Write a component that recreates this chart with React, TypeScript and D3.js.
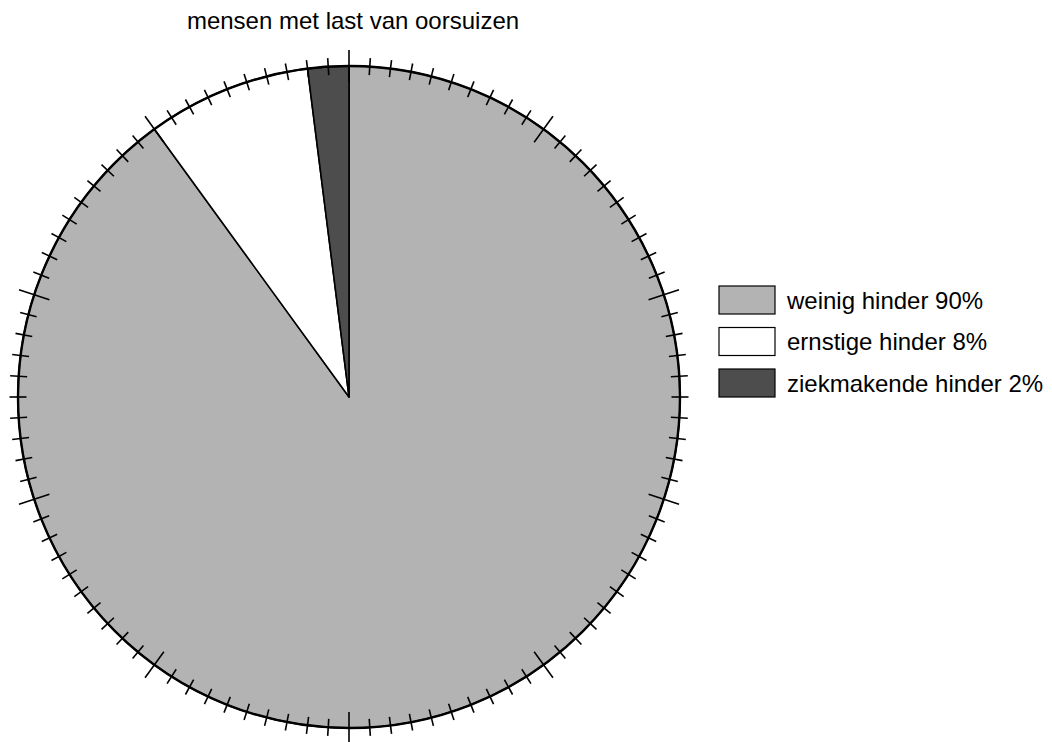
import React from "react";
import * as d3 from "d3";

const categories = ["weinig hinder", "ernstige hinder", "ziekmakende hinder"];
const values = [90, 8, 2];
const legendLabels = ["weinig hinder 90%", "ernstige hinder 8%", "ziekmakende hinder 2%"];
const colors = ["#b3b3b3", "#ffffff", "#4d4d4d"];
const title = "mensen met last van oorsuizen";
const tickValues = d3.range(0, 100, 1);

export default function App() {
  const W = 1052, H = 742;
  const cx = 349, cy = 397, R = 331;
  const pie = d3.pie<number>().sort(null).value((d) => d).startAngle(0).endAngle(2 * Math.PI);
  const arcs = pie(values);
  const arc = d3.arc<d3.PieArcDatum<number>>().innerRadius(0).outerRadius(R);
  const ang = d3.scaleLinear().domain([0, 100]).range([0, 2 * Math.PI]);

  return (
    <svg width={W} height={H} style={{ position: "absolute", left: 0, top: 0 }} fontFamily="Liberation Sans, Arial, sans-serif">
      <rect width={W} height={H} fill="#fff" />
      <text x={353} y={29} textAnchor="middle" fontSize={24} fill="#000">{title}</text>
      <g transform={`translate(${cx},${cy})`}>
        {arcs.map((a, i) => (
          <path key={categories[i]} d={arc(a) || ""} fill={colors[i]} stroke="#000" strokeWidth={1.6} strokeLinejoin="round" />
        ))}
        <circle r={R} fill="none" stroke="#000" strokeWidth={2.4} />
        {tickValues.map((t) => {
          const a = ang(t);
          const len = t % 10 === 0 ? 16 : 8.5;
          const s = Math.sin(a), c = -Math.cos(a);
          return (
            <line key={t} x1={(R - len) * s} y1={(R - len) * c} x2={(R + len) * s} y2={(R + len) * c} stroke="#000" strokeWidth={1.6} />
          );
        })}
      </g>
      <g>
        {legendLabels.map((l, i) => (
          <g key={l} transform={`translate(719,${286 + i * 41.5})`}>
            <rect x={0} y={0} width={56} height={28} fill={colors[i]} stroke="#000" strokeWidth={1.2} />
            <text x={68} y={14} dominantBaseline="central" fontSize={24} fill="#000">{l}</text>
          </g>
        ))}
      </g>
    </svg>
  );
}
